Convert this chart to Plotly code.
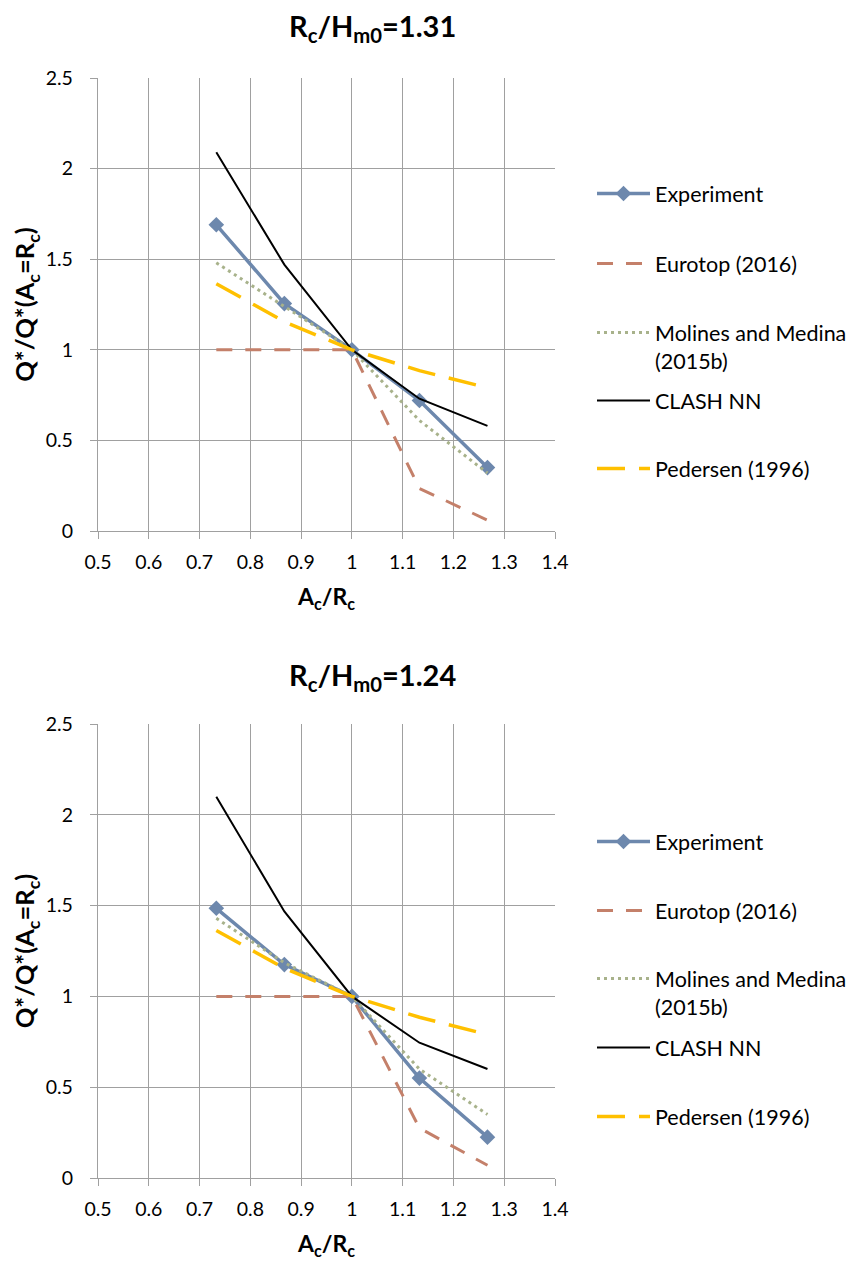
import plotly.graph_objects as go

x_vals = [0.733, 0.867, 1.0, 1.133, 1.267]

# Top panel: Rc/Hm0 = 1.31
top_experiment = [1.69, 1.255, 1.0, 0.72, 0.35]
top_eurotop = [1.0, 1.0, 1.0, 0.235, 0.06]
top_molines = [1.48, 1.24, 1.0, 0.61, 0.32]
top_clash = [2.09, 1.47, 1.0, 0.73, 0.58]
top_pedersen = [1.365, 1.155, 1.0, 0.885, 0.79]

# Bottom panel: Rc/Hm0 = 1.24
bot_experiment = [1.485, 1.175, 1.0, 0.55, 0.225]
bot_eurotop = [1.0, 1.0, 1.0, 0.275, 0.07]
bot_molines = [1.43, 1.185, 1.0, 0.6, 0.35]
bot_clash = [2.1, 1.468, 1.0, 0.745, 0.6]
bot_pedersen = [1.363, 1.155, 1.0, 0.885, 0.79]

series_names = ["Experiment", "Eurotop (2016)", "Molines and Medina<br>(2015b)",
                "CLASH NN", "Pedersen (1996)"]
titles = ["R<sub>c</sub>/H<sub>m0</sub>=1.31", "R<sub>c</sub>/H<sub>m0</sub>=1.24"]
x_ticks = [0.5, 0.6, 0.7, 0.8, 0.9, 1.0, 1.1, 1.2, 1.3, 1.4]
x_tick_labels = ["0.5", "0.6", "0.7", "0.8", "0.9", "1", "1.1", "1.2", "1.3", "1.4"]
y_ticks = [0, 0.5, 1, 1.5, 2, 2.5]
y_tick_labels = ["0", "0.5", "1", "1.5", "2", "2.5"]

FONT = "Lato, 'Open Sans', sans-serif"
OFF = 8  # page body margin
W, H = 858 - OFF, 1264 - OFF

styles = [
    dict(mode="lines+markers", line=dict(color="#6D88AD", width=3.5),
         marker=dict(symbol="diamond", size=12, color="#6D88AD")),
    dict(mode="lines", line=dict(color="#C4806A", width=3, dash="16px,13px")),
    dict(mode="lines", line=dict(color="#A8B28B", width=3, dash="3px,4px")),
    dict(mode="lines", line=dict(color="#000000", width=2)),
    dict(mode="lines", line=dict(color="#FFC000", width=3.5, dash="28px,14px")),
]

def fx(px):
    return (px - OFF) / W

def fy(py):
    return 1 - (py - OFF) / H

# legend entry centres (first text line), reference pixels
legend_rows = [[193, 263, 332, 400, 468], [841, 910, 978, 1047, 1116]]

fig = go.Figure()
layout = dict(
    width=W, height=H, margin=dict(l=0, r=0, t=0, b=0),
    paper_bgcolor="white", plot_bgcolor="white",
    font=dict(family=FONT, color="#000"),
    showlegend=True,
)

panels = [
    ([top_experiment, top_eurotop, top_molines, top_clash, top_pedersen], "x", "y"),
    ([bot_experiment, bot_eurotop, bot_molines, bot_clash, bot_pedersen], "x2", "y2"),
]
n = 0
for p, (data, xa, ya) in enumerate(panels):
    for i, (name, ys, st) in enumerate(zip(series_names, data, styles)):
        n += 1
        leg = "legend" if n == 1 else f"legend{n}"
        fig.add_trace(go.Scatter(x=x_vals, y=ys, name=name, xaxis=xa, yaxis=ya,
                                 legend=leg, **st))
        layout[leg] = dict(x=fx(592), y=fy(legend_rows[p][i] - 20), xanchor="left",
                           yanchor="top", itemwidth=53, bgcolor="rgba(0,0,0,0)",
                           valign="top", font=dict(family=FONT, size=21.5, color="#000"))

axis_common = dict(showgrid=True, gridcolor="#A0A0A0", gridwidth=1.3,
                   showline=True, linecolor="#A0A0A0", linewidth=1.3,
                   ticks="outside", ticklen=7, tickcolor="#A0A0A0", tickwidth=1.3,
                   zeroline=False, automargin=False,
                   tickfont=dict(family=FONT, size=19.5, color="#000"))

for k, (top, bottom) in zip(["", "2"], [(78, 531), (724, 1178)]):
    layout["xaxis" + k] = dict(domain=[fx(98), fx(555)], range=[0.5, 1.4], tickvals=x_ticks,
                               ticktext=x_tick_labels, anchor="y" + k,
                               ticklabelstandoff=6,
                               title=dict(text="<b>A<sub>c</sub>/R<sub>c</sub></b>",
                                          font=dict(family=FONT, size=23), standoff=17),
                               **axis_common)
    layout["yaxis" + k] = dict(domain=[fy(bottom), fy(top)], range=[0, 2.5], tickvals=y_ticks,
                               ticktext=y_tick_labels, anchor="x" + k,
                               ticklabelstandoff=13,
                               title=dict(text="<b>Q*/Q*(A<sub>c</sub>=R<sub>c</sub>)</b>",
                                          font=dict(family=FONT, size=25.5), standoff=3),
                               **axis_common)

annotations = []
for t, yc in zip(titles, [28, 676]):
    annotations.append(dict(text=f"<b>{t}</b>", x=fx(372), y=fy(yc), xref="paper",
                            yref="paper", showarrow=False, xanchor="center", yanchor="middle",
                            font=dict(family=FONT, size=29, color="#000")))
layout["annotations"] = annotations

fig.update_layout(**layout)
fig.write_html("out.html")
